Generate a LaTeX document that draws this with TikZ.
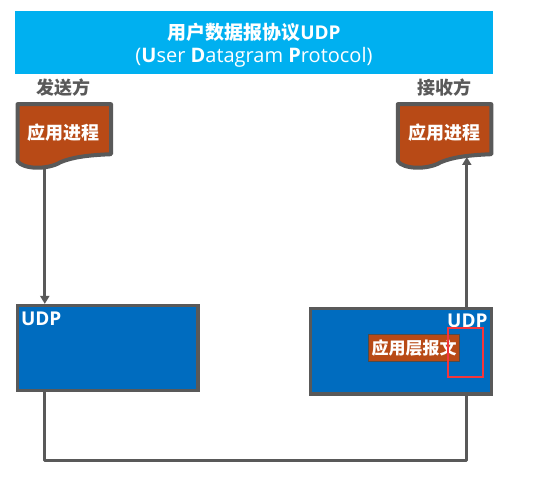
\documentclass[tikz,border=0pt]{standalone}
\usepackage{fontspec}
\setmainfont{Open Sans}
\newfontfamily\cjk{Noto Sans CJK SC}
\usetikzlibrary{positioning,backgrounds,arrows.meta}
\definecolor{linegray}{HTML}{595959}
\definecolor{procorange}{HTML}{B84A16}
\definecolor{boxblue}{HTML}{006CBF}
\definecolor{titleblue}{HTML}{00B0F0}
\definecolor{markred}{HTML}{F5353B}
\newcommand\docw{92.5pt}
\newcommand\doch{57pt}
\newcommand\boxw{180.7pt}
\newcommand\boxh{85pt}
\newcommand\topgap{30pt}
\tikzset{
  titlebar/.style={fill=titleblue, text=white, inner sep=0pt, minimum width=478pt, minimum height=63pt, align=center},
  side/.style={text=linegray, inner sep=0pt, font=\cjk\bfseries\fontsize{18}{20}\selectfont},
  proc/.style={text=white, inner sep=0pt, minimum width=\docw, minimum height=\doch, font=\cjk\bfseries\fontsize{18}{20}\selectfont},
  docbody/.style={draw=linegray, fill=procorange, line width=4pt, line join=round},
  udpbox/.style={draw=linegray, fill=boxblue, line width=3.3pt, inner sep=0pt, minimum width=\boxw, minimum height=\boxh},
  udptext/.style={text=white, inner sep=0pt, font=\bfseries\fontsize{19}{20}\selectfont},
  message/.style={draw=black!70, fill=procorange, text=white, line width=.6pt, inner sep=0pt, minimum width=91pt, minimum height=27pt, font=\cjk\bfseries\fontsize{17}{20}\selectfont},
  marker/.style={draw=markred, line width=2.5pt, inner sep=0pt, minimum width=35pt, minimum height=49pt},
  flow/.style={draw=linegray, line width=3pt, line join=round},
  flowarrow/.style={flow, -{Triangle[length=8pt,width=9pt]}},
}
\newcommand\docpath[1]{
  \draw[docbody, shift={(#1.north west)}] (0,0) -- (93.5,0) -- (93.5,-50)
    .. controls (70,-51) and (55,-53) .. (43,-58)
    .. controls (30,-66) and (5,-65) .. (0,-57) -- cycle;
}

\begin{document}
\begin{tikzpicture}[x=1pt, y=1pt]
  \useasboundingbox (0,0) rectangle (557,481);
  \node [titlebar] (title) at (254,438.5) {\rule{0pt}{22pt}{\cjk\bfseries\fontsize{19}{25}\selectfont 用户数据报协议}{\bfseries\fontsize{19}{25}\selectfont UDP}\\[5pt]
    \fontsize{20}{25}\selectfont (\textbf{U}ser \textbf{D}atagram \textbf{P}rotocol)};
  % application processes
  \node [proc, below right=\topgap and 2.7pt of title.south west] (sendproc) {应用进程};
  \node [proc, below left=\topgap and 2.5pt of title.south east] (recvproc) {应用进程};
  \node [side, above=8pt of sendproc] (sendlabel) {发送方};
  \node [side, above=8pt of recvproc] (recvlabel) {接收方};
  \begin{scope}[on background layer]
    \docpath{sendproc}
    \docpath{recvproc}
  \end{scope}
  % udp boxes
  \node [udpbox, below right=142.3pt and -2pt of sendproc.south west] (sendbox) {};
  \node [udpbox, minimum height=85.7pt, below left=145pt and -2.3pt of recvproc.south east] (recvbox) {};
  \node [udptext, anchor=base west] (sendudp) at ([shift={(5.3pt,-21.7pt)}]sendbox.north west) {UDP};
  \node [udptext, anchor=base east] (recvudp) at ([shift={(-5.3pt,-20.5pt)}]recvbox.north east) {UDP};
  \node [message] (msg) at ([shift={(13.2pt,3pt)}]recvbox.center) {应用层报文};
  \node [marker, below left=20pt and 8.6pt of recvbox.north east] (mark) {};
  % connectors
  \coordinate [below right=0pt and 27.3pt of sendproc.south west] (sendout);
  \coordinate [below right=0pt and 69pt of recvproc.south west] (recvin);
  \coordinate [below=68.3pt of sendbox.south] (bottom);
  \draw [flowarrow] (sendout |- 0,314) -- (sendout |- sendbox.north);
  \draw [flow] (sendout |- sendbox.south) -- (sendout |- bottom) -- (recvin |- bottom) -- (recvin |- recvbox.south);
  \draw [flowarrow] (recvin |- recvbox.north) -- (recvin |- 0,324);
\end{tikzpicture}
\end{document}
